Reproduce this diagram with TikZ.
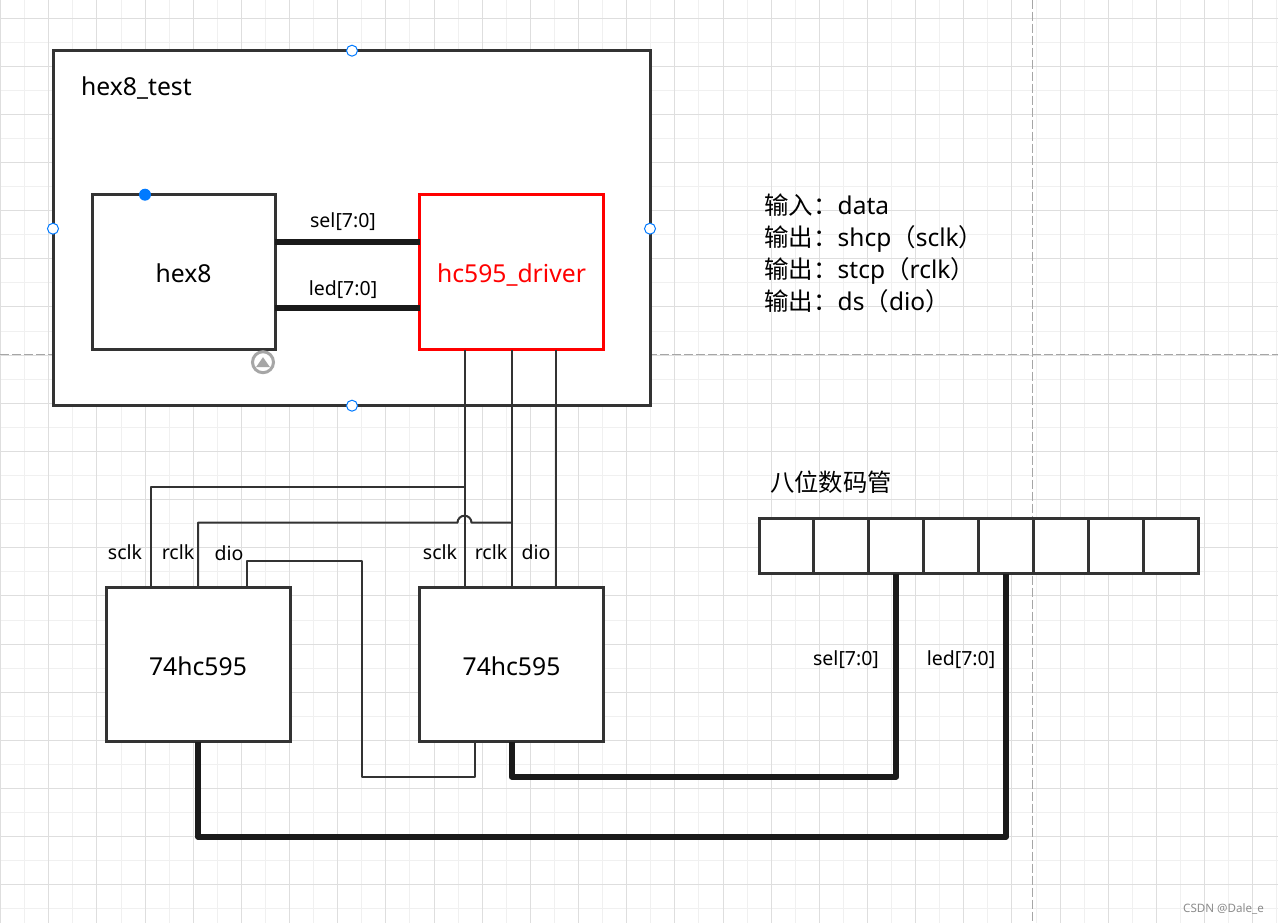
\documentclass[tikz,border=0pt]{standalone}
\usepackage{fontspec}
\setmainfont{Noto Sans}
\newfontfamily\cjk{Noto Sans CJK SC}
\usetikzlibrary{calc,positioning}
\definecolor{boxGray}{RGB}{51,51,51}
\definecolor{busBlack}{RGB}{26,26,26}
\definecolor{gridMajor}{RGB}{222,222,222}
\definecolor{gridMinor}{RGB}{240,240,240}
\definecolor{handleBlue}{RGB}{0,122,255}
\tikzset{
  block/.style={draw=boxGray,line width=3pt,fill=white,inner sep=0pt,outer sep=0pt,text height=24pt,text depth=3pt,font=\fontsize{24.7}{28}\selectfont},
  chipbox/.style={block,minimum width=184pt,minimum height=154pt},
  segcell/.style={block,minimum width=54.9pt,minimum height=55pt},
  wire/.style={draw=boxGray,line width=2pt,line join=round},
  busline/.style={draw=busBlack,line width=6pt,line join=round},
  tag/.style={inner sep=0pt,font=\fontsize{19.5}{22}\selectfont},
  handle/.style={circle,draw=handleBlue,fill=white,line width=1pt,minimum size=11pt,inner sep=0pt}
}
\begin{document}
\begin{tikzpicture}[x=1pt,y=-1pt]
\useasboundingbox (0,-0.7) rectangle (1278,922.3);
\fill[white] (0,-0.7) rectangle (1278,922.3);
% background grid
\foreach \k in {0,...,53}
  \draw[gridMinor,line width=1pt] ({int(0.6+24.08*\k)+0.5},-1) -- ({int(0.6+24.08*\k)+0.5},923);
\foreach \k in {0,...,38}
  \draw[gridMinor,line width=1pt] (0,{int(17+24.08*\k-24.08+1)-0.2}) -- (1278,{int(17+24.08*\k-24.08+1)-0.2});
\foreach \k in {0,...,26}
  \draw[gridMajor,line width=1pt] ({int(0.6+48.16*\k)+0.5},-1) -- ({int(0.6+48.16*\k)+0.5},923);
\foreach \k in {0,...,18}
  \draw[gridMajor,line width=1pt] (0,{int(17+48.16*\k+1)-0.2}) -- (1278,{int(17+48.16*\k+1)-0.2});
\draw[gray!70,line width=1pt,dash pattern=on 9pt off 3pt] (1032,-1) -- (1032,923);
\draw[gray!70,line width=1pt,dash pattern=on 9pt off 3pt] (0,353.5) -- (1278,353.5);

% top module
\node[block,minimum width=597pt,minimum height=355pt] (hexeighttest) at (351.5,227.5) {};
\node[anchor=west,inner sep=0pt,font=\fontsize{24.7}{28}\selectfont] (testlabel) at (81,87) {hex8\_test};
\node[block,minimum width=183pt,minimum height=155pt] (hexeight) at (183.5,271.5) {hex8};
\node[block,draw=red,text=red,minimum width=184pt,minimum height=155pt] (driver) at (511.5,271.5) {hc595\_driver};

% inner buses
\coordinate (selstart) at ([yshift=30.5pt]hexeight.east);
\coordinate (ledstart) at ([yshift=-35.5pt]hexeight.east);
\draw[busline] (selstart) -- (selstart -| driver.west);
\draw[busline] (ledstart) -- (ledstart -| driver.west);
\node[tag] (sellabel) at (343,220.5) {sel[7:0]};
\node[tag] (ledlabel) at (343,288.5) {led[7:0]};

% chips
\node[chipbox] (chipleft) at (198,664) {74hc595};
\node[chipbox] (chipright) at (511.5,664) {74hc595};

% control wires
\coordinate (sclktop) at ([xshift=-47pt]driver.south);
\coordinate (rclktop) at (driver.south);
\coordinate (diotop) at ([xshift=44pt]driver.south);
\draw[wire] (sclktop) -- (sclktop |- chipright.north);
\draw[wire] (rclktop) -- (rclktop |- chipright.north);
\draw[wire] (diotop) -- (diotop |- chipright.north);
\coordinate (sclkleft) at ([xshift=-47pt]chipleft.north);
\coordinate (dioleft) at ([xshift=49pt]chipleft.north);
\coordinate (dioright) at ([xshift=-37pt]chipright.south);
\draw[wire] (sclktop |- 0,486) -- (sclkleft |- 0,486) -- (sclkleft);
\draw[wire] (rclktop |- 0,522) -- (471.5,522) arc[start angle=0,end angle=180,radius=7pt] -- (chipleft.north |- 0,522) -- (chipleft.north);
\draw[wire] (dioleft) -- (dioleft |- 0,560) -- (362,560) -- (362,776) -- (dioright |- 0,776) -- (dioright);

\node[tag] (sclka) at (125,551.5) {sclk};
\node[tag] (rclka) at (178,551.5) {rclk};
\node[tag] (dioa) at (229,552.5) {dio};
\node[tag] (sclkb) at (440,551.5) {sclk};
\node[tag] (rclkb) at (491,551.5) {rclk};
\node[tag] (diob) at (536,551.5) {dio};

% digit tube
\foreach \i in {1,...,8}
  \node[segcell] (cell\i) at ({759+54.9*(\i-1)+27.45},545.5) {};
\node[anchor=west,inner sep=0pt,font=\fontsize{24.3}{28}\selectfont\cjk] (tubelabel) at (770,481.5) {八位数码管};

% outer buses
\draw[busline] (chipright.south) -- (chipright.south |- 0,776) -- (cell3.south |- 0,776) -- (cell3.south);
\draw[busline] (chipleft.south) -- (chipleft.south |- 0,836) -- (cell5.south |- 0,836) -- (cell5.south);
\node[tag] (selout) at (846,658.5) {sel[7:0]};
\node[tag] (ledout) at (961,658.5) {led[7:0]};

% port notes
\node[anchor=north west,inner sep=0pt,align=left,font=\fontsize{24.5}{32}\selectfont] (notes) at (764,193) {{\cjk 输入：}data\\{\cjk 输出：}shcp{\cjk （}sclk{\cjk ）}\\{\cjk 输出：}stcp{\cjk （}rclk{\cjk ）}\\{\cjk 输出：}ds{\cjk （}dio{\cjk ）}};

% selection handles
\node[handle] (handletop) at (352,50) {};
\node[handle] (handlebottom) at (352,405) {};
\node[handle] (handleleft) at (53,228) {};
\node[handle] (handleright) at (650,228) {};
\node[circle,fill=handleBlue,minimum size=12pt,inner sep=0pt] (handleport) at (145,194) {};
\node[circle,draw=gray!70,fill=white,line width=3pt,minimum size=21pt,inner sep=0pt] (collapse) at (263,361.5) {};
\fill[gray!70] (256,366.5) -- (270,366.5) -- (263,356.5) -- cycle;

\node[anchor=east,inner sep=0pt,text=gray!90,font=\fontsize{11.6}{13}\selectfont] (watermark) at (1264,908) {CSDN @Dale\_e};
\end{tikzpicture}
\end{document}
